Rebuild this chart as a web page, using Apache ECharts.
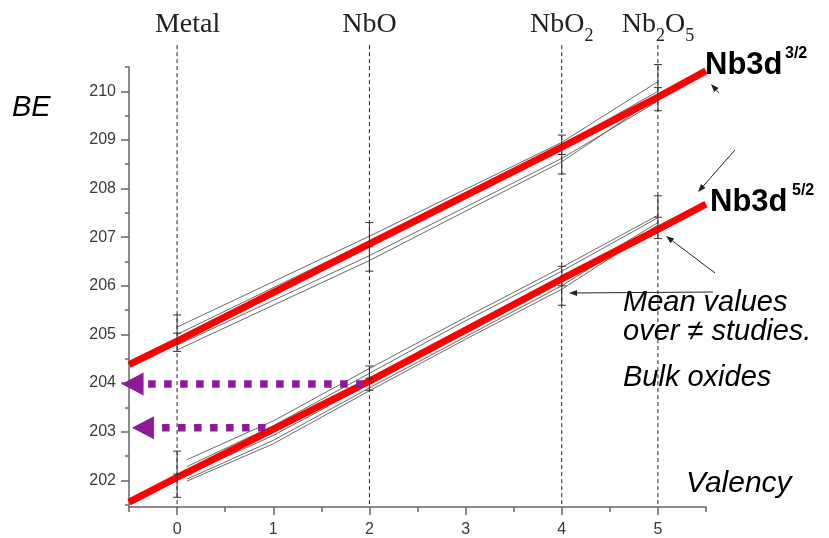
<!DOCTYPE html>
<html><head><meta charset="utf-8">
<script src="https://cdn.jsdelivr.net/npm/echarts@6/dist/echarts.min.js"></script>
<style>html,body{margin:0;padding:0;background:#fff}#c{width:829px;height:538px}</style>
</head><body><div id="c"></div>
<script>
// ---- data ----
const meanX = [-0.5, 0, 2, 4, 5, 5.5];
const nb32Mean = [204.38, 204.86, 206.86, 208.85, 209.88, 210.42];
const nb52Mean = [201.55, 202.06, 204.04, 206.14, 207.16, 207.68];

const study32X = [0, 2, 4, 5];
const study32A = [205.15, 207.02, 208.95, 210.20];
const study32B = [205.00, 206.92, 208.88, 210.00];
const study32C = [204.78, 206.62, 208.62, 209.80];
const study32D = [204.68, 206.52, 208.55, 209.88];

const study52X = [0.1, 1, 2, 3, 4, 5];
const study52A = [202.42, 203.22, 204.30, 205.35, 206.38, 207.45];
const study52B = [202.28, 203.12, 204.20, 205.28, 206.30, 207.40];
const study52C = [202.12, 202.92, 203.98, 205.05, 206.10, 207.30];
const study52D = [202.02, 202.82, 203.90, 204.95, 206.00, 207.25];
const study52E = [201.98, 202.75, 203.84, 204.90, 205.93, 207.20];

const err32 = [[0, 204.65, 205.40], [2, 206.30, 207.30], [4, 208.30, 209.10], [5, 209.60, 210.55]];
const err52 = [[0, 201.65, 202.60], [2, 203.85, 204.35], [4, 205.60, 206.40], [5, 206.97, 207.85]];

const bulkLevels = [203.98, 203.08];
const bulkFrom = [1.94, 0.92];
const bulkTo = [-0.33, -0.16];
const bulkHeadX = [-0.463, -0.355];

const oxideX = [0, 2, 4, 5];
const oxideNames = ['{m|Metal}', '{a|NbO}', '{a|NbO}{s|2}', '{a|Nb}{s|2}{a|O}{s|5}'];

const xTicks = [0, 1, 2, 3, 4, 5];
const xMinor = [-0.5, 0.5, 1.5, 2.5, 3.5, 4.5, 5.5];
const yTicks = [202, 203, 204, 205, 206, 207, 208, 209, 210];
const yMinor = [201.5, 202.5, 203.5, 204.5, 205.5, 206.5, 207.5, 208.5, 209.5, 210.5];

const X_MIN = -0.5, X_MAX = 5.5, Y_MIN = 201.45, Y_MAX = 210.5, Y_TOP_LINE = 210.95;

// ---- chart ----
const chart = echarts.init(document.getElementById('c'));
const axisColor = '#666';
const zip = (xs, ys) => xs.map((x, i) => [x, ys[i]]);

function studyLine(xs, ys) {
  return { type: 'line', data: zip(xs, ys), symbol: 'none', z: 2, silent: true,
    lineStyle: { color: '#444', width: 0.8 } };
}
function errSeries(d) {
  return {
    type: 'custom', data: d, z: 4, silent: true, clip: false,
    encode: { x: 0, y: [1, 2] },
    renderItem: function (params, api) {
      const x = api.value(0), lo = api.value(1), hi = api.value(2);
      const p1 = api.coord([x, lo]), p2 = api.coord([x, hi]);
      const pm = api.coord([x, (lo + hi) / 2]);
      const st = { stroke: '#333', lineWidth: 1 };
      const cap = (p) => ({ type: 'line', shape: { x1: p[0] - 4, y1: p[1], x2: p[0] + 4, y2: p[1] }, style: st });
      return { type: 'group', children: [
        { type: 'line', shape: { x1: p1[0], y1: p1[1], x2: p2[0], y2: p2[1] }, style: st },
        cap(p1), cap(p2), cap(pm)
      ] };
    }
  };
}

const series = [
  {
    type: 'custom', data: oxideX.map(x => [x, 205]), z: 1, silent: true, clip: false,
    renderItem: function (params, api) {
      const x = api.value(0);
      const p1 = api.coord([x, Y_TOP_LINE]), p2 = api.coord([x, Y_MIN]);
      return { type: 'line', shape: { x1: p1[0], y1: p1[1], x2: p2[0], y2: p2[1] },
        style: { stroke: '#222', lineWidth: 1, lineDash: [4, 3] } };
    }
  },
  studyLine(study32X, study32A), studyLine(study32X, study32B),
  studyLine(study32X, study32C), studyLine(study32X, study32D),
  studyLine(study52X, study52A), studyLine(study52X, study52B),
  studyLine(study52X, study52C), studyLine(study52X, study52D), studyLine(study52X, study52E),
  { type: 'line', data: zip(meanX, nb32Mean), symbol: 'none', z: 3, lineStyle: { color: '#ff0000', width: 7 } },
  { type: 'line', data: zip(meanX, nb52Mean), symbol: 'none', z: 3, lineStyle: { color: '#ff0000', width: 7 } },
  errSeries(err32), errSeries(err52)
];
bulkLevels.forEach((lv, i) => {
  series.push({ type: 'line', data: [[bulkFrom[i], lv], [bulkTo[i], lv]], symbol: 'none', z: 5, clip: false,
    lineStyle: { color: '#8c1a99', width: 7.5, type: [7.5, 8.5], cap: 'butt', opacity: 1 } });
});
series.push({ type: 'scatter', data: zip(bulkHeadX, bulkLevels), symbol: 'triangle', symbolRotate: 90,
  symbolSize: [23, 22], z: 5, clip: false, itemStyle: { color: '#8c1a99', opacity: 1 } });

const labelFont = { fontFamily: 'Liberation Sans', fontSize: 16, color: '#3a3a3a' };
const serif = 'Liberation Serif';

function arrow(x1, y1, x2, y2) {
  const dx = x2 - x1, dy = y2 - y1, len = Math.hypot(dx, dy);
  const ux = dx / len, uy = dy / len, L = 8, W = 3;
  const bx = x2 - ux * L, by = y2 - uy * L;
  return [
    { type: 'line', shape: { x1, y1, x2: bx, y2: by }, style: { stroke: '#222', lineWidth: 1 } },
    { type: 'polygon', shape: { points: [[x2, y2], [bx - uy * W, by + ux * W], [bx + uy * W, by - ux * W]] }, style: { fill: '#222' } }
  ];
}
function txt(t, x, y, size, opts) {
  return { type: 'text', x: x, y: y, style: Object.assign({ text: t, fontFamily: 'Liberation Sans',
    fontSize: size, fontStyle: 'italic', fill: '#000', verticalAlign: 'middle' }, opts || {}) };
}

const graphic = [
  txt('BE', 12, 108, 29),
  txt('Valency', 686, 484, 30),
  txt('Mean values', 623, 303, 29),
  txt('over \u2260 studies.', 623, 332, 29),
  txt('Bulk oxides', 623, 378, 29),
  txt('Nb3d', 705, 65, 31, { fontStyle: 'normal', fontWeight: 'bold' }),
  txt('3/2', 785, 54, 16, { fontStyle: 'normal', fontWeight: 'bold' }),
  txt('Nb3d', 710, 202, 31, { fontStyle: 'normal', fontWeight: 'bold' }),
  txt('5/2', 792, 191, 16, { fontStyle: 'normal', fontWeight: 'bold' })
].concat(arrow(719, 93, 711, 84), arrow(735, 150, 698, 192), arrow(715, 273, 666, 236), arrow(713, 292, 569, 293));

chart.setOption({
  animation: false,
  backgroundColor: '#fff',
  grid: { left: 129, right: 123, top: 67, bottom: 28 },
  xAxis: [
    { type: 'value', min: X_MIN, max: X_MAX, position: 'bottom', splitLine: { show: false },
      axisLine: { onZero: false, lineStyle: { color: axisColor, width: 1.5 } },
      axisTick: { customValues: xTicks, length: 8, lineStyle: { color: axisColor, width: 1.5 } },
      axisLabel: Object.assign({ customValues: xTicks, margin: 15 }, labelFont) },
    { type: 'value', min: X_MIN, max: X_MAX, position: 'bottom', splitLine: { show: false },
      axisLine: { show: false, onZero: false },
      axisTick: { customValues: xMinor, length: 5, lineStyle: { color: axisColor, width: 1.5 } },
      axisLabel: { show: false } },
    { type: 'value', min: X_MIN, max: X_MAX, position: 'top', splitLine: { show: false },
      axisLine: { show: false, onZero: false }, axisTick: { show: false },
      axisLabel: { customValues: oxideX, margin: 22,
        formatter: v => oxideNames[oxideX.indexOf(v)],
        rich: {
          a: { fontFamily: serif, fontSize: 28, color: '#222', lineHeight: 28, verticalAlign: 'bottom', padding: [0, 0, 6, 0] },
          m: { fontFamily: serif, fontSize: 28, color: '#222', lineHeight: 28, verticalAlign: 'bottom', padding: [0, 0, 6, 21] },
          s: { fontFamily: serif, fontSize: 18, color: '#222', lineHeight: 18, verticalAlign: 'bottom' }
        } } }
  ],
  yAxis: [
    { type: 'value', min: Y_MIN, max: Y_MAX, position: 'left', splitLine: { show: false },
      axisLine: { show: true, onZero: false, lineStyle: { color: axisColor, width: 1.5 } },
      axisTick: { show: true, customValues: yTicks, length: 8, lineStyle: { color: axisColor, width: 1.5 } },
      axisLabel: Object.assign({ customValues: yTicks, margin: 13 }, labelFont) },
    { type: 'value', min: Y_MIN, max: Y_MAX, position: 'left', splitLine: { show: false },
      axisLine: { show: false, onZero: false },
      axisTick: { show: true, customValues: yMinor, length: 4, lineStyle: { color: axisColor, width: 1.5 } },
      axisLabel: { show: false } }
  ],
  series: series,
  graphic: graphic
});
</script></body></html>
